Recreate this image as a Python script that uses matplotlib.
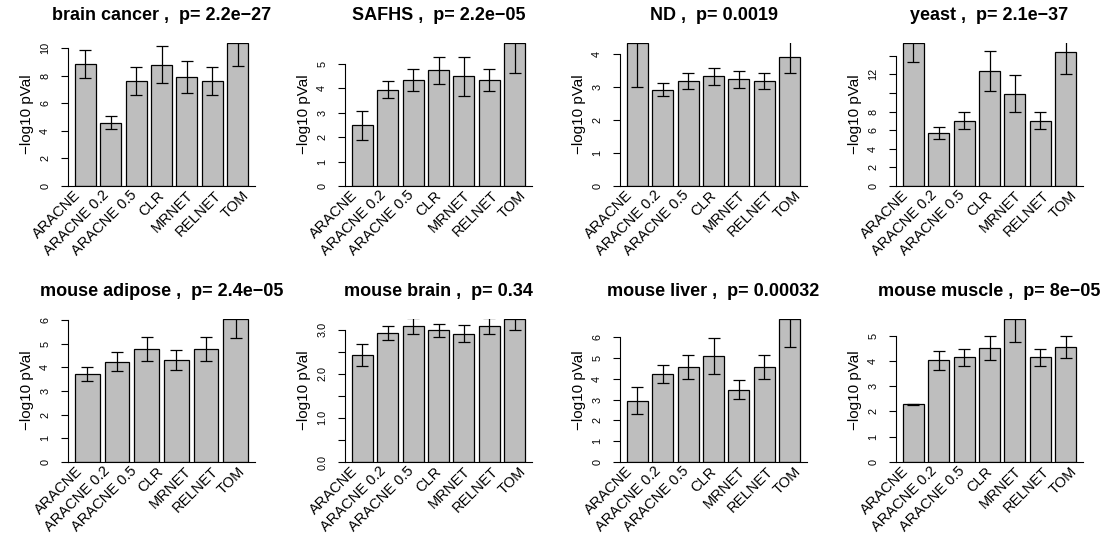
import matplotlib
matplotlib.use('Agg')
import matplotlib.pyplot as plt
import numpy as np

plt.rcParams['font.family'] = ['Liberation Sans', 'DejaVu Sans']

methods = ["ARACNE", "ARACNE 0.2", "ARACNE 0.5", "CLR", "MRNET", "RELNET", "TOM"]

# ---- data ----
brain_cancer_title = "brain cancer ,  p= 2.2e\u221227"
brain_cancer_vals = [8.85, 4.58, 7.61, 8.80, 7.90, 7.61, 10.36]
brain_cancer_err = [1.00, 0.48, 1.04, 1.33, 1.13, 1.04, 1.69]
brain_cancer_ticks = [0, 2, 4, 6, 8, 10]
brain_cancer_ticklabels = ["0", "2", "4", "6", "8", "10"]

safhs_title = "SAFHS ,  p= 2.2e\u221205"
safhs_vals = [2.48, 3.93, 4.32, 4.72, 4.48, 4.32, 5.84]
safhs_err = [0.60, 0.35, 0.45, 0.56, 0.80, 0.45, 1.22]
safhs_ticks = [0, 1, 2, 3, 4, 5]
safhs_ticklabels = ["0", "1", "2", "3", "4", "5"]

nd_title = "ND ,  p= 0.0019"
nd_vals = [4.33, 2.92, 3.18, 3.32, 3.23, 3.18, 3.91]
nd_err = [1.33, 0.20, 0.24, 0.26, 0.26, 0.24, 0.49]
nd_ticks = [0, 1, 2, 3, 4]
nd_ticklabels = ["0", "1", "2", "3", "4"]

yeast_title = "yeast ,  p= 2.1e\u221237"
yeast_vals = [15.36, 5.71, 7.00, 12.39, 9.93, 7.00, 14.43]
yeast_err = [2.07, 0.68, 0.93, 2.14, 1.95, 0.93, 2.43]
yeast_ticks = [0, 2, 4, 6, 8, 10, 12, 14]
yeast_ticklabels = ["0", "2", "4", "6", "8", "", "12", ""]

adipose_title = "mouse adipose ,  p= 2.4e\u221205"
adipose_vals = [3.73, 4.25, 4.77, 4.30, 4.77, 6.05]
adipose_err = [0.30, 0.39, 0.50, 0.42, 0.50, 0.81]
adipose_ticks = [0, 1, 2, 3, 4, 5, 6]
adipose_ticklabels = ["0", "1", "2", "3", "4", "5", "6"]

mbrain_title = "mouse brain ,  p= 0.34"
mbrain_vals = [2.42, 2.92, 3.09, 2.98, 2.91, 3.09, 3.24]
mbrain_err = [0.25, 0.16, 0.18, 0.15, 0.19, 0.18, 0.26]
mbrain_ticks = [0, 0.5, 1.0, 1.5, 2.0, 2.5, 3.0]
mbrain_ticklabels = ["0.0", "", "1.0", "", "2.0", "", "3.0"]

liver_title = "mouse liver ,  p= 0.00032"
liver_vals = [2.95, 4.24, 4.57, 5.12, 3.48, 4.57, 6.89]
liver_err = [0.64, 0.44, 0.57, 0.86, 0.45, 0.57, 1.37]
liver_ticks = [0, 1, 2, 3, 4, 5, 6]
liver_ticklabels = ["0", "1", "2", "3", "4", "5", "6"]

muscle_title = "mouse muscle ,  p= 8e\u221205"
muscle_vals = [2.28, 4.02, 4.14, 4.51, 5.66, 4.14, 4.54]
muscle_err = [0.01, 0.37, 0.34, 0.48, 0.92, 0.34, 0.44]
muscle_ticks = [0, 1, 2, 3, 4, 5]
muscle_ticklabels = ["0", "1", "2", "3", "4", "5"]

panels = [
    (brain_cancer_title, brain_cancer_vals, brain_cancer_err, brain_cancer_ticks, brain_cancer_ticklabels),
    (safhs_title, safhs_vals, safhs_err, safhs_ticks, safhs_ticklabels),
    (nd_title, nd_vals, nd_err, nd_ticks, nd_ticklabels),
    (yeast_title, yeast_vals, yeast_err, yeast_ticks, yeast_ticklabels),
    (adipose_title, adipose_vals, adipose_err, adipose_ticks, adipose_ticklabels),
    (mbrain_title, mbrain_vals, mbrain_err, mbrain_ticks, mbrain_ticklabels),
    (liver_title, liver_vals, liver_err, liver_ticks, liver_ticklabels),
    (muscle_title, muscle_vals, muscle_err, muscle_ticks, muscle_ticklabels),
]

W, H = 1109, 537
fig = plt.figure(figsize=(W / 100, H / 100), dpi=100)

col_left = [68, 345, 620, 896]
row_top = [43, 319]
ax_w, ax_h = 187, 143

for i, (title, vals, errs, ticks, tlabels) in enumerate(panels):
    r, c = divmod(i, 4)
    left = col_left[c] / W
    bottom = 1 - (row_top[r] + ax_h) / H
    ax = fig.add_axes([left, bottom, ax_w / W, ax_h / H])
    n = len(vals)
    x = 0.7 + 1.2 * np.arange(n)
    ax.bar(x, vals, width=1.0, color='#BEBEBE', edgecolor='black', linewidth=0.9, zorder=2)
    ax.errorbar(x, vals, yerr=errs, fmt='none', ecolor='black', elinewidth=0.9,
                capsize=4.5, capthick=0.9, zorder=3)
    span = 1.2 * n - 0.2
    pad = 0.04 * (span)
    ax.set_xlim(0.2 - pad, 0.2 + span + pad)
    ax.set_ylim(0, max(vals))
    ax.set_yticks(ticks)
    ax.set_yticklabels(tlabels, rotation=90, va='center', fontsize=7.8)
    ax.tick_params(axis='y', length=5.3, width=0.8, pad=7.5)
    ax.set_xticks([])
    for s in ['top', 'right']:
        ax.spines[s].set_visible(False)
    ax.spines['left'].set_bounds(ticks[0], ticks[-1])
    ax.spines['left'].set_linewidth(0.8)
    ax.spines['bottom'].set_linewidth(0.8)
    ax.text(-41 / ax_w, 0.5, "\u2212log10 pVal", rotation=90, ha='center', va='center',
            fontsize=11, transform=ax.transAxes)
    ax.text(0.5, 1 + 28 / ax_h, title, ha='center', va='center', fontsize=13,
            fontweight='bold', transform=ax.transAxes)
    if n == 7:
        lx = np.linspace(0.055, 0.955, len(methods))
    else:
        lx = np.linspace(0.068, 0.932, len(methods))
    for xx, lab in zip(lx, methods):
        ax.text(xx, -0.05, lab, rotation=45, ha='right', va='center',
                rotation_mode='anchor', fontsize=10.5, transform=ax.transAxes)

fig.savefig('out.png', dpi=100)
